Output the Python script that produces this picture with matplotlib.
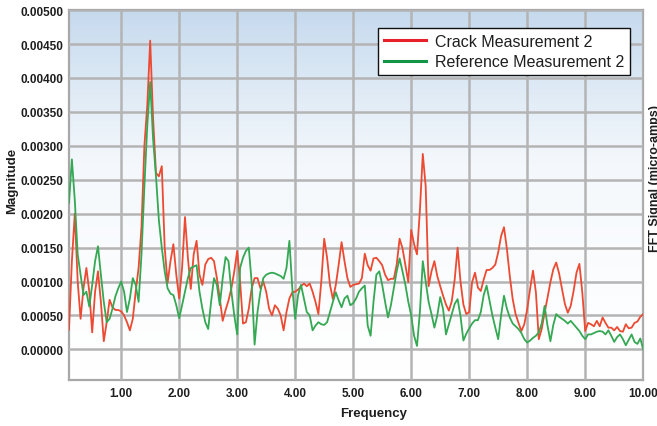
import numpy as np
import matplotlib
matplotlib.use('Agg')
import matplotlib.pyplot as plt
from matplotlib.colors import LinearSegmentedColormap

plt.rcParams['font.family'] = ['Liberation Sans', 'DejaVu Sans']

# frequency bins (0.05 step from 0.10 to 10.00)
freq = np.round(np.arange(0.10, 10.0001, 0.05), 2)

# magnitudes, in units of 1e-3
crack = [
    0.29, 1.30, 2.00, 1.00, 0.45, 0.90, 1.20, 0.85, 0.25, 0.85,
    1.15, 0.70, 0.12, 0.40, 0.73, 0.62, 0.58, 0.58, 0.56, 0.50,
    0.40, 0.28, 0.45, 0.85, 1.20, 1.80, 3.00, 3.60, 4.55, 3.40,
    2.60, 2.55, 2.70, 1.50, 0.98, 1.30, 1.55, 1.10, 0.75, 1.20,
    1.95, 1.35, 0.89, 1.40, 1.60, 1.10, 0.95, 1.25, 1.33, 1.35,
    1.30, 1.05, 0.75, 0.42, 0.58, 0.72, 0.90, 1.15, 1.45, 1.00,
    0.38, 0.40, 0.60, 0.90, 1.05, 1.05, 0.90, 1.00, 0.85, 0.60,
    0.50, 0.65, 0.60, 0.50, 0.28, 0.55, 0.75, 0.84, 0.85, 0.88,
    0.93, 0.97, 0.93, 0.97, 0.85, 0.70, 0.52, 1.00, 1.63, 1.35,
    0.95, 0.74, 0.95, 1.25, 1.58, 1.30, 1.05, 0.92, 0.95, 0.96,
    0.97, 1.05, 1.41, 1.24, 1.16, 1.34, 1.35, 1.30, 1.24, 1.10,
    1.02, 1.04, 1.04, 1.25, 1.63, 1.49, 1.24, 0.99, 1.76, 1.55,
    1.40, 2.05, 2.88, 2.40, 0.93, 1.15, 1.30, 1.08, 0.93, 0.79,
    0.66, 0.57, 0.71, 1.03, 1.50, 1.00, 0.66, 0.52, 0.55, 0.99,
    1.13, 0.91, 0.86, 1.03, 1.17, 1.17, 1.20, 1.25, 1.43, 1.67,
    1.80, 1.48, 1.08, 0.74, 0.52, 0.39, 0.27, 0.37, 0.59, 0.89,
    1.16, 0.84, 0.15, 0.30, 0.54, 0.76, 0.99, 1.18, 1.28, 1.12,
    0.89, 0.67, 0.54, 0.64, 0.86, 1.13, 1.26, 0.84, 0.27, 0.39,
    0.37, 0.34, 0.42, 0.34, 0.47, 0.39, 0.32, 0.32, 0.28, 0.33,
    0.27, 0.26, 0.37, 0.31, 0.32, 0.39, 0.41, 0.48, 0.52,
]
reference = [
    2.16, 2.80, 2.20, 1.40, 1.10, 0.80, 0.85, 0.63, 0.95, 1.30,
    1.52, 1.10, 0.70, 0.40, 0.45, 0.60, 0.78, 0.90, 1.00, 0.85,
    0.55, 0.75, 1.05, 0.95, 0.70, 1.40, 2.40, 3.30, 3.94, 3.10,
    2.55, 1.90, 1.50, 1.15, 0.90, 0.82, 0.80, 0.65, 0.46, 0.65,
    0.85, 1.05, 1.20, 1.22, 1.24, 0.85, 0.60, 0.40, 0.30, 0.70,
    1.05, 0.95, 0.65, 1.05, 1.36, 1.30, 0.85, 0.50, 0.22, 1.20,
    1.35, 1.45, 1.50, 0.98, 0.07, 0.55, 0.85, 1.05, 1.10, 1.12,
    1.13, 1.12, 1.10, 1.08, 1.04, 1.20, 1.60, 0.90, 0.45, 0.80,
    0.95, 0.75, 0.55, 0.50, 0.28, 0.35, 0.40, 0.37, 0.36, 0.40,
    0.55, 0.70, 0.84, 0.72, 0.62, 0.75, 0.79, 0.65, 0.68, 0.75,
    0.85, 0.90, 0.94, 0.35, 0.20, 0.70, 1.10, 1.15, 0.95, 0.70,
    0.47, 0.65, 0.90, 1.15, 1.34, 1.15, 0.95, 0.70, 0.50, 0.20,
    0.05, 0.55, 1.30, 1.00, 0.70, 0.52, 0.32, 0.50, 0.77, 0.59,
    0.22, 0.37, 0.52, 0.67, 0.74, 0.49, 0.13, 0.23, 0.31, 0.38,
    0.43, 0.43, 0.55, 0.80, 0.94, 0.72, 0.50, 0.32, 0.15, 0.50,
    0.79, 0.60, 0.47, 0.38, 0.34, 0.30, 0.24, 0.15, 0.10, 0.13,
    0.17, 0.20, 0.25, 0.38, 0.64, 0.35, 0.12, 0.36, 0.52, 0.48,
    0.45, 0.42, 0.38, 0.42, 0.37, 0.32, 0.27, 0.20, 0.15, 0.22,
    0.22, 0.24, 0.26, 0.27, 0.26, 0.22, 0.28, 0.20, 0.11, 0.18,
    0.22, 0.15, 0.06, 0.14, 0.22, 0.11, 0.08, 0.16, 0.00,
]
crack = np.array(crack) / 1000
reference = np.array(reference) / 1000

yticks = np.arange(0, 0.00501, 0.0005)
xticks = np.arange(1, 11)

txt = '#1e1e1e'

fig = plt.figure(figsize=(6.57, 4.27), dpi=100)
ax = fig.add_axes([0.105, 0.108, 0.874, 0.866])

x0, x1 = 0.1, 10.0
y0, y1 = -0.00045, 0.005

# light blue gradient background
cmap = LinearSegmentedColormap.from_list('bg', ['#ffffff', '#f4f8fc', '#c6daee'])
grad = np.linspace(0, 1, 256).reshape(-1, 1) ** 1.3
ax.imshow(grad, extent=[x0, x1, y0, y1], origin='lower', aspect='auto',
          cmap=cmap, zorder=0)

ax.plot(freq, crack, color='#ec4a32', lw=1.3, zorder=3, label='Crack Measurement 2')
ax.plot(freq, reference, color='#34a853', lw=1.3, zorder=3, label='Reference Measurement 2')

ax.set_xlim(x0, x1)
ax.set_ylim(y0, y1)
ax.set_xticks(xticks)
ax.set_xticklabels(['%.2f' % v for v in xticks])
ax.set_yticks(yticks)
ax.set_yticklabels(['%.5f' % v for v in yticks])
ax.tick_params(length=0, labelcolor=txt, labelsize=8.5)
ax.tick_params(axis='y', pad=4)
ax.tick_params(axis='x', pad=5)
for lab in ax.get_xticklabels() + ax.get_yticklabels():
    lab.set_fontweight('bold')

ax.grid(True, color='#b4b4b4', lw=1.8, zorder=1)
ax.set_axisbelow(False)
for s in ax.spines.values():
    s.set_color('#a8a8a8')
    s.set_linewidth(1.6)
    s.set_zorder(2)

ax.set_xlabel('Frequency', fontsize=9.5, fontweight='bold', color=txt)
ax.set_ylabel('Magnitude', fontsize=9.5, fontweight='bold', color=txt)
ax.xaxis.set_label_coords(0.53, -0.072)
ax.yaxis.set_label_coords(-0.089, 0.54)

leg = ax.legend(loc='upper right', bbox_to_anchor=(0.977, 0.951), borderaxespad=0,
                prop={'size': 11.5}, frameon=True, fancybox=False,
                handlelength=2.6, handletextpad=0.6, borderpad=0.35, labelspacing=0.35)
leg.get_frame().set_edgecolor('#111111')
leg.get_frame().set_linewidth(1.0)
leg.get_frame().set_alpha(1)
leg.get_lines()[0].set_color('#e8202a')
leg.get_lines()[1].set_color('#139548')
for ln in leg.get_lines():
    ln.set_linewidth(2.2)
for t in leg.get_texts():
    t.set_color(txt)

# clipped axis title from a neighbouring panel
fig.text(0.997, 0.583, 'FFT Signal (micro-amps)', rotation=90, ha='center', va='center',
         fontsize=9, fontweight='bold', color=txt)

fig.savefig('out.png', dpi=100)
